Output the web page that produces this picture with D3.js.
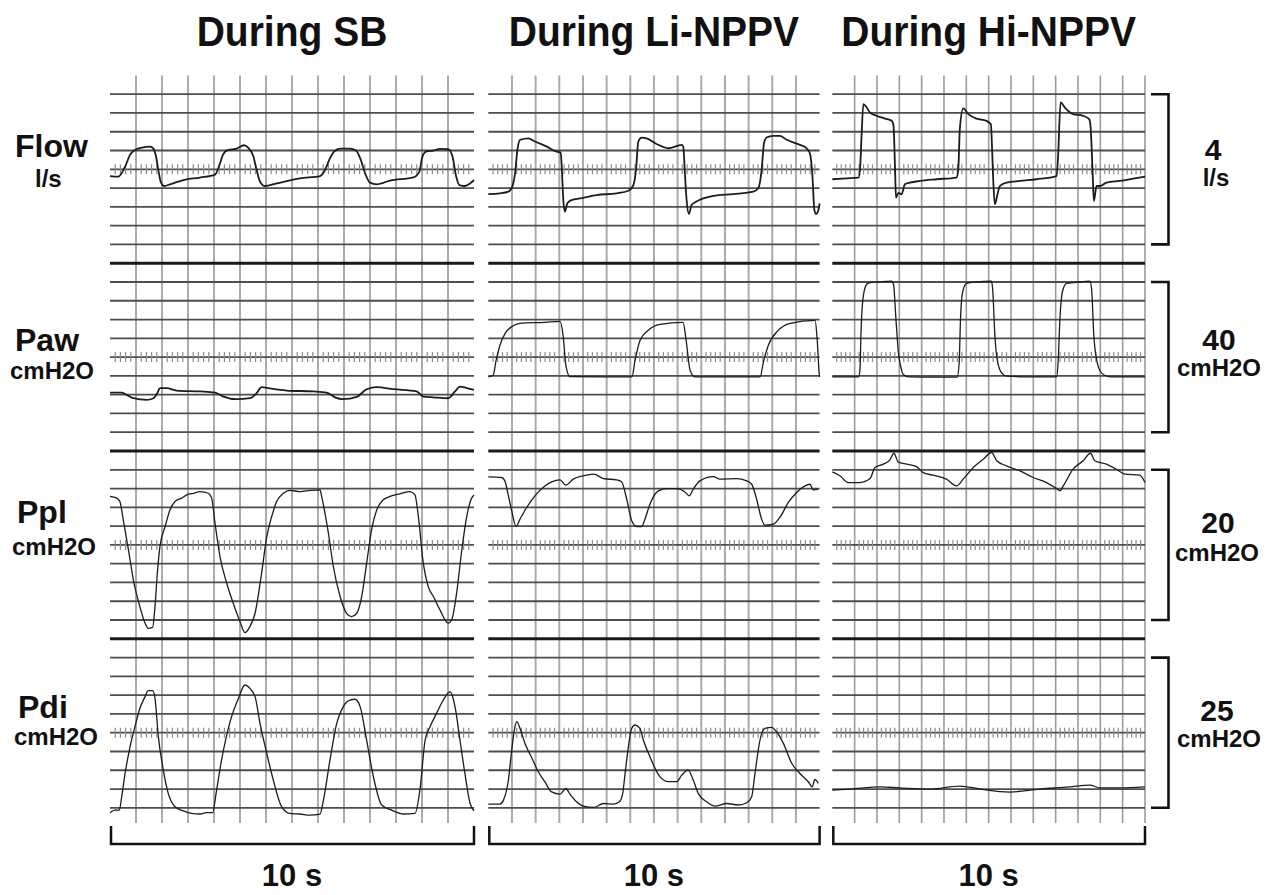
<!DOCTYPE html>
<html>
<head>
<meta charset="utf-8">
<script src="https://cdn.jsdelivr.net/npm/d3@7"></script>
<style>
body { margin: 0; background: #fff; }
text { font-family: 'Liberation Sans', Arial, sans-serif; font-weight: bold; fill: #111; }
</style>
</head>
<body>
<svg id="chart" width="1282" height="895"></svg>
<script>
// conditions (columns) and channels (rows)
const conditions = ['During SB', 'During Li-NPPV', 'During Hi-NPPV']
const channels = ['Flow', 'Paw', 'Ppl', 'Pdi']
const channelUnits = ['l/s', 'cmH2O', 'cmH2O', 'cmH2O']
const calibValues = ['4', '40', '20', '25']
const calibUnits = ['l/s', 'cmH2O', 'cmH2O', 'cmH2O']
const timeLabel = '10 s'

// traces: [time in grid columns (0-14 = 10 s), divisions from centre line]
const flowSB = [[0,-0.36],[0.32,-0.39],[0.58,0.14],[0.77,0.77],[0.96,1.03],[1.28,1.17],[1.54,1.21],[1.67,1.10],[1.77,0.68],[1.86,-0.04],[1.95,-0.66],[2.08,-0.89],[2.31,-0.80],[2.82,-0.57],[3.46,-0.44],[4.04,-0.28],[4.21,0.23],[4.36,0.82],[4.55,1.03],[4.87,1.10],[5.15,1.28],[5.32,1.14],[5.51,0.71],[5.64,-0.04],[5.77,-0.66],[5.96,-0.89],[6.41,-0.75],[7.31,-0.48],[8.08,-0.36],[8.27,-0.04],[8.44,0.53],[8.62,0.94],[8.85,1.10],[9.23,1.10],[9.46,1.0],[9.64,0.53],[9.81,-0.21],[10.0,-0.71],[10.26,-0.80],[10.77,-0.60],[11.67,-0.43],[11.90,-0.12],[12.0,0.59],[12.15,0.94],[12.44,1.0],[12.69,1.09],[13.01,1.07],[13.18,0.64],[13.31,-0.36],[13.44,-0.84],[13.65,-0.89],[13.85,-0.75],[14.0,-0.57]]
const flowLi = [[0,-1.32],[0.49,-1.28],[0.85,-1.19],[1.01,-0.93],[1.13,-0.21],[1.23,1.03],[1.34,1.57],[1.69,1.65],[1.97,1.48],[2.47,1.21],[2.89,0.94],[3.06,0.89],[3.11,-0.04],[3.17,-1.64],[3.24,-2.26],[3.34,-1.81],[3.52,-1.64],[3.87,-1.55],[4.58,-1.37],[5.42,-1.28],[5.92,-1.14],[6.13,-0.84],[6.24,-0.04],[6.34,1.48],[6.48,1.69],[6.69,1.65],[7.11,1.35],[7.61,1.12],[8.17,1.30],[8.24,1.21],[8.30,-0.04],[8.38,-1.64],[8.48,-2.38],[8.59,-1.90],[8.78,-1.73],[9.51,-1.42],[10.35,-1.32],[11.2,-1.19],[11.41,-1.01],[11.55,-0.04],[11.65,1.39],[11.76,1.69],[12.04,1.78],[12.32,1.78],[12.61,1.57],[13.17,1.30],[13.45,1.12],[13.59,0.85],[13.69,-0.21],[13.78,-2.17],[13.85,-2.38],[13.95,-2.17],[14.0,-1.81]]
const flowHi = [[0,-0.53],[0.64,-0.48],[1.17,-0.44],[1.24,0],[1.31,1.78],[1.39,3.47],[1.54,3.29],[1.69,3.02],[1.98,2.85],[2.36,2.70],[2.66,2.58],[2.74,2.31],[2.81,0],[2.85,-1.51],[2.96,-1.25],[3.10,-1.33],[3.25,-0.80],[3.48,-0.71],[3.92,-0.62],[4.67,-0.53],[5.56,-0.44],[5.64,0],[5.71,2.14],[5.86,3.24],[6.09,2.94],[6.46,2.70],[6.90,2.58],[7.10,2.40],[7.16,0.89],[7.21,-0.71],[7.28,-1.87],[7.38,-1.42],[7.50,-0.89],[7.80,-0.71],[8.40,-0.62],[9.14,-0.53],[10.04,-0.36],[10.11,0.71],[10.22,3.56],[10.41,3.29],[10.78,2.94],[11.23,2.85],[11.50,2.67],[11.56,2.31],[11.65,0],[11.71,-1.69],[11.83,-0.89],[11.98,-0.89],[12.28,-0.71],[12.87,-0.62],[13.47,-0.50],[14.0,-0.39]]

const pawSB = [[0,-1.89],[0.45,-1.89],[0.64,-2.01],[0.90,-2.19],[1.41,-2.28],[1.67,-2.19],[1.82,-1.92],[1.92,-1.65],[2.18,-1.65],[2.56,-1.78],[3.46,-1.83],[4.04,-1.89],[4.36,-2.10],[4.87,-2.24],[5.38,-2.19],[5.64,-1.92],[5.83,-1.60],[6.15,-1.67],[6.79,-1.78],[7.82,-1.83],[8.33,-1.89],[8.65,-2.14],[8.97,-2.24],[9.49,-2.12],[9.87,-1.71],[10.26,-1.60],[10.90,-1.71],[11.79,-1.83],[12.05,-2.10],[12.44,-2.14],[13.01,-2.19],[13.27,-1.83],[13.46,-1.57],[13.72,-1.65],[14.0,-1.74]]
const pawLi = [[0,-1.05],[0.2,-0.98],[0.33,-0.18],[0.49,0.62],[0.71,1.26],[1.0,1.63],[1.34,1.80],[2.39,1.85],[3.03,1.90],[3.16,1.16],[3.28,-0.45],[3.45,-1.04],[4.72,-1.05],[6.07,-1.05],[6.20,-0.18],[6.41,0.89],[6.75,1.42],[7.26,1.74],[8.23,1.85],[8.36,0.89],[8.53,-0.71],[8.74,-1.05],[11.49,-1.05],[11.62,-0.29],[11.83,0.62],[12.25,1.42],[12.76,1.80],[13.81,1.96],[13.90,0.89],[13.98,-0.82],[14.0,-1.05]]
const pawHi = [[0,-1.05],[1.17,-1.05],[1.24,-0.66],[1.28,1.12],[1.39,3.26],[1.54,3.88],[1.69,3.97],[2.06,4.0],[2.66,4.04],[2.74,3.88],[2.85,2.01],[2.96,0.23],[3.06,-0.48],[3.18,-0.93],[3.40,-1.05],[4.67,-1.07],[5.59,-1.07],[5.68,-0.30],[5.74,2.01],[5.83,3.43],[6.01,3.93],[6.46,4.0],[7.13,4.04],[7.18,3.61],[7.28,1.12],[7.38,-0.12],[7.58,-0.84],[7.81,-1.01],[8.70,-1.05],[10.04,-1.05],[10.11,-0.30],[10.19,2.01],[10.31,3.52],[10.49,3.93],[11.08,4.0],[11.53,4.04],[11.61,3.61],[11.71,1.12],[11.83,-0.12],[12.05,-0.84],[12.43,-1.05],[14.0,-1.05]]

const pplSB = [[0,2.58],[0.26,2.49],[0.38,2.31],[0.51,1.33],[0.71,-0.27],[0.90,-1.87],[1.15,-3.29],[1.35,-4.17],[1.47,-4.44],[1.64,-4.39],[1.73,-3.29],[1.82,-1.51],[1.92,-0.09],[2.12,0.98],[2.31,1.87],[2.50,2.31],[2.76,2.49],[2.95,2.66],[3.21,2.75],[3.46,2.84],[3.78,2.75],[3.91,2.49],[4.04,1.15],[4.23,-0.62],[4.49,-2.04],[4.74,-3.11],[5.0,-4.09],[5.19,-4.67],[5.38,-4.35],[5.58,-3.64],[5.83,-1.51],[6.03,0.44],[6.22,1.51],[6.41,2.31],[6.67,2.75],[6.92,2.90],[7.31,2.84],[7.69,2.90],[8.08,2.93],[8.14,2.58],[8.40,0.62],[8.59,-1.15],[8.85,-2.75],[9.10,-3.64],[9.29,-3.82],[9.49,-3.64],[9.68,-2.75],[9.87,-0.98],[10.06,0.80],[10.26,1.87],[10.51,2.40],[10.77,2.58],[11.15,2.72],[11.54,2.84],[11.73,2.66],[11.86,1.51],[12.05,-0.98],[12.24,-2.22],[12.44,-2.75],[12.69,-3.46],[13.01,-4.17],[13.14,-4.0],[13.33,-2.58],[13.53,-0.27],[13.72,1.51],[13.91,2.49],[14.0,2.66]]
const pplLi = [[0,3.62],[0.56,3.59],[0.70,3.41],[0.85,2.61],[0.99,1.81],[1.17,0.98],[1.34,1.37],[1.62,1.99],[1.97,2.61],[2.39,3.14],[2.68,3.36],[3.03,3.46],[3.28,3.18],[3.59,3.50],[4.01,3.68],[4.45,3.77],[4.87,3.53],[5.42,3.46],[5.63,3.36],[5.85,2.43],[6.06,1.28],[6.27,0.98],[6.48,0.98],[6.62,1.37],[6.83,2.17],[7.19,2.88],[7.54,3.0],[7.96,3.0],[8.31,2.82],[8.49,2.61],[8.66,2.97],[8.94,3.41],[9.51,3.64],[9.79,3.50],[10.49,3.53],[10.92,3.41],[11.13,3.23],[11.34,2.43],[11.55,1.37],[11.69,1.05],[12.04,1.10],[12.32,1.46],[12.68,2.26],[13.03,2.79],[13.38,3.14],[13.59,3.23],[13.73,2.93],[13.94,2.97]]
const pplHi = [[0,3.89],[0.34,3.68],[0.72,3.32],[1.24,3.32],[1.69,3.53],[1.91,4.12],[2.28,4.30],[2.58,4.53],[2.76,4.88],[2.95,4.42],[3.33,4.30],[3.77,4.17],[4.07,3.85],[4.52,3.71],[5.11,3.50],[5.56,3.14],[5.86,3.50],[6.31,4.12],[6.76,4.56],[7.13,4.92],[7.36,4.48],[7.80,4.21],[8.40,3.94],[8.99,3.59],[9.59,3.32],[10.04,3.0],[10.19,2.88],[10.34,3.14],[10.78,4.03],[11.23,4.48],[11.56,4.88],[11.75,4.48],[12.27,4.30],[12.72,4.03],[13.10,3.77],[13.76,3.71],[14.0,3.32]]

const pdiSB = [[0,-4.26],[0.19,-4.12],[0.36,-4.12],[0.45,-3.41],[0.58,-2.17],[0.77,-0.75],[0.96,0.32],[1.15,1.30],[1.35,1.92],[1.47,2.24],[1.64,2.24],[1.73,1.83],[1.86,-0.21],[2.05,-1.99],[2.24,-3.23],[2.50,-3.94],[2.82,-4.16],[3.14,-4.30],[3.46,-4.33],[3.72,-4.26],[3.95,-4.26],[4.08,-3.23],[4.29,-1.46],[4.62,0.59],[4.94,1.83],[5.19,2.54],[5.38,2.36],[5.58,1.92],[5.77,0.50],[6.03,-1.10],[6.28,-2.52],[6.60,-3.94],[6.92,-4.30],[7.31,-4.33],[7.69,-4.39],[8.08,-4.33],[8.21,-3.59],[8.46,-1.46],[8.72,0.50],[8.97,1.39],[9.23,1.74],[9.42,1.78],[9.62,1.39],[9.87,-0.39],[10.13,-2.34],[10.45,-3.85],[10.83,-4.12],[11.28,-4.33],[11.73,-4.30],[11.92,-3.05],[12.12,-0.39],[12.31,0.32],[12.56,1.03],[12.82,1.74],[13.08,2.18],[13.27,1.39],[13.46,-0.39],[13.65,-2.17],[13.85,-3.77],[14.0,-4.16]]
const pdiLi = [[0,-3.80],[0.49,-3.80],[0.64,-3.59],[0.85,-2.52],[0.99,-0.92],[1.10,0.14],[1.20,0.59],[1.34,0.23],[1.55,-0.57],[1.85,-1.37],[2.11,-2.08],[2.39,-2.61],[2.66,-3.14],[3.03,-3.27],[3.28,-2.97],[3.45,-3.27],[3.73,-3.68],[4.01,-3.91],[4.45,-3.98],[4.87,-3.77],[5.30,-3.80],[5.54,-3.68],[5.68,-3.23],[5.78,-2.17],[5.92,-0.75],[6.06,0.23],[6.20,0.41],[6.41,0.23],[6.55,-0.39],[6.83,-1.28],[7.25,-2.34],[7.61,-2.61],[7.96,-2.61],[8.17,-2.26],[8.45,-1.99],[8.66,-2.52],[8.87,-3.23],[9.23,-3.68],[9.58,-3.91],[10.07,-3.77],[10.56,-3.85],[10.92,-3.73],[11.13,-3.41],[11.27,-2.17],[11.48,-0.39],[11.69,0.23],[11.97,0.28],[12.18,0.05],[12.47,-0.57],[12.82,-1.63],[13.17,-2.17],[13.52,-2.61],[13.69,-2.88],[13.80,-2.49],[13.94,-2.70]]
const pdiHi = [[0,-3.05],[0.79,-3.0],[2.13,-2.89],[3.03,-2.94],[4.37,-3.0],[5.71,-2.84],[6.61,-3.0],[7.95,-3.16],[9.29,-3.0],[10.63,-2.89],[11.53,-2.79],[11.98,-2.94],[12.87,-2.94],[14.0,-2.89]]

const traces = [
	[flowSB, flowLi, flowHi],
	[pawSB, pawLi, pawHi],
	[pplSB, pplLi, pplHi],
	[pdiSB, pdiLi, pdiHi]
]

// layout
const GRID_TOP = 75.4
const ROW_H = 187.8
const GRID_BOTTOM = 823
const panelRanges = [[110, 474], [488.3, 819.6], [832.3, 1145]]
const leftLabelLayout = [
	{ x: 15, dy: -12, ux: 35, udy: 18 },
	{ x: 15, dy: -6, ux: 10, udy: 22 },
	{ x: 17, dy: -22, ux: 12, udy: 10 },
	{ x: 18, dy: -15, ux: 14, udy: 12 }
]
const rightLabelLayout = [
	{ x: 1213, dy: -9, ux: 1216, udy: 17 },
	{ x: 1219, dy: -7, ux: 1219, udy: 19 },
	{ x: 1218, dy: -12, ux: 1217, udy: 16 },
	{ x: 1217, dy: -12, ux: 1219, udy: 14 }
]

const svg = d3.select('#chart')
svg.append('rect').attr('width', 1282).attr('height', 895).attr('fill', '#fff')

const rowScale = r => d3.scaleLinear()
	.domain([-5, 5])
	.range([GRID_TOP + (r + 1)*ROW_H, GRID_TOP + r*ROW_H])

const gridLayer = svg.append('g').attr('class', 'grid')
const traceLayer = svg.append('g').attr('class', 'traces')

conditions.forEach((cond, c) => {
	const x = d3.scaleLinear().domain([0, 14]).range(panelRanges[c])
	const xStops = d3.range(1, c === 2 ? 15 : 14)

	gridLayer.append('g')
		.selectAll('line')
		.data(xStops)
		.enter()
		.append('line')
		.attr('x1', d => x(d))
		.attr('x2', d => x(d))
		.attr('y1', GRID_TOP)
		.attr('y2', GRID_BOTTOM)
		.attr('stroke', c === 2 ? '#9c9c9c' : '#ababab')
		.attr('stroke-width', c === 2 ? 1.6 : 2)

	channels.forEach((ch, r) => {
		const y = rowScale(r)

		gridLayer.append('g')
			.selectAll('line')
			.data(d3.range(-4, 5))
			.enter()
			.append('line')
			.attr('x1', x(0))
			.attr('x2', x(14))
			.attr('y1', d => y(d))
			.attr('y2', d => y(d))
			.attr('stroke', '#4d4d4d')
			.attr('stroke-width', 1.8)

		// small ticks along the centre line
		const subTicks = d3.range(1, 70).filter(i => i % 5 !== 0).map(i => i/5)
		gridLayer.append('g')
			.selectAll('line')
			.data(subTicks)
			.enter()
			.append('line')
			.attr('x1', d => x(d))
			.attr('x2', d => x(d))
			.attr('y1', y(0) - 5)
			.attr('y2', y(0) + 5)
			.attr('stroke', '#8c8c8c')
			.attr('stroke-width', 1.2)

		if(r < channels.length - 1) {
			gridLayer.append('line')
				.attr('x1', x(0))
				.attr('x2', x(14))
				.attr('y1', y(-5))
				.attr('y2', y(-5))
				.attr('stroke', '#1a1a1a')
				.attr('stroke-width', 3)
		}

		const line = d3.line()
			.x(d => x(d[0]))
			.y(d => y(d[1]))
			.curve(d3.curveMonotoneX)

		traceLayer.append('path')
			.datum(traces[r][c])
			.attr('d', line)
			.attr('fill', 'none')
			.attr('stroke', '#1c1c1c')
			.attr('stroke-width', (r === 0 || (r === 1 && c === 0)) ? 1.8 : 1.3)
			.attr('stroke-linejoin', 'round')
	})

	// title
	svg.append('text')
		.attr('transform', `translate(${(x(0) + x(14))/2}, 46) scale(1, 1.1)`)
		.attr('text-anchor', 'middle')
		.style('font-size', '39px')
		.text(cond)

	// 10 s bracket
	svg.append('path')
		.attr('d', `M${x(0) + 1},826 V844 H${x(14)} V826`)
		.attr('fill', 'none')
		.attr('stroke', '#111')
		.attr('stroke-width', 2.5)

	svg.append('text')
		.attr('x', (x(0) + x(14))/2)
		.attr('y', 886)
		.attr('text-anchor', 'middle')
		.style('font-size', '31px')
		.text(timeLabel)
})

// channel labels on the left, calibration brackets on the right
channels.forEach((ch, r) => {
	const y = rowScale(r)
	const L = leftLabelLayout[r]
	const R = rightLabelLayout[r]

	svg.append('text')
		.attr('x', L.x)
		.attr('y', y(0) + L.dy)
		.style('font-size', '32px')
		.text(ch)

	svg.append('text')
		.attr('x', L.ux)
		.attr('y', y(0) + L.udy)
		.style('font-size', '24px')
		.text(channelUnits[r])

	svg.append('path')
		.attr('d', `M1151,${y(4)} H1168.5 V${y(-4)} H1151`)
		.attr('fill', 'none')
		.attr('stroke', '#111')
		.attr('stroke-width', 2.6)

	svg.append('text')
		.attr('x', R.x)
		.attr('y', y(0) + R.dy)
		.attr('text-anchor', 'middle')
		.style('font-size', '30px')
		.text(calibValues[r])

	svg.append('text')
		.attr('x', R.ux)
		.attr('y', y(0) + R.udy)
		.attr('text-anchor', 'middle')
		.style('font-size', '24px')
		.text(calibUnits[r])
})
</script>
</body>
</html>
